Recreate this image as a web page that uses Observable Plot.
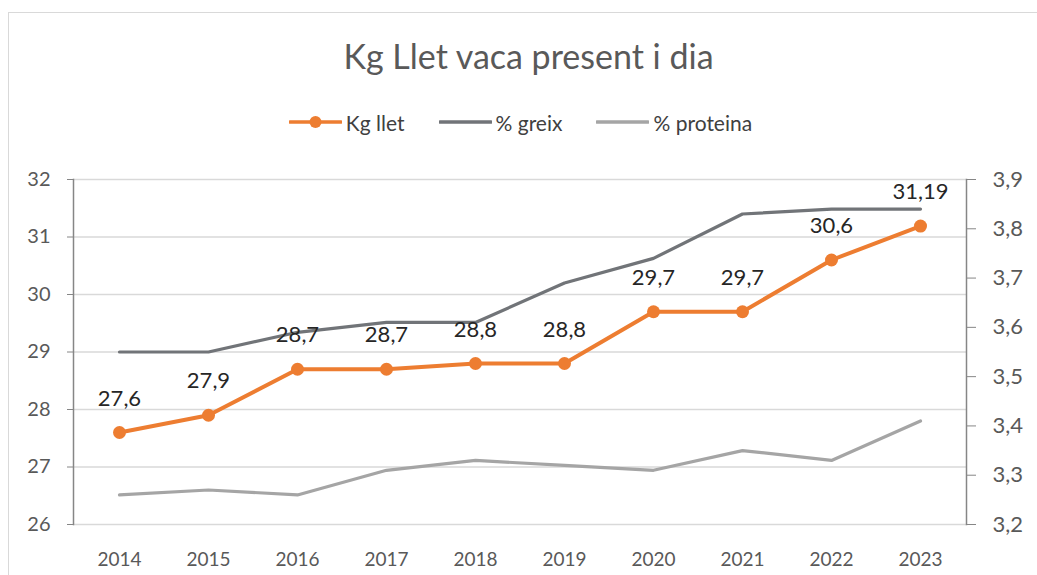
<!DOCTYPE html>
<html>
<head>
<meta charset="utf-8">
<script src="https://cdn.jsdelivr.net/npm/d3@7"></script>
<script src="https://cdn.jsdelivr.net/npm/@observablehq/plot@0.6"></script>
<style>
  html, body { margin: 0; padding: 0; background: #fff; overflow: hidden; }
  body { width: 1037px; height: 575px; position: relative; font-family: Lato, "Noto Sans", sans-serif; }
  #border { position: absolute; left: 8px; top: 12px; width: 1200px; height: 800px; border: 1.5px solid #d9d9d9; box-sizing: border-box; }
  #title { position: absolute; left: 0; width: 1057px; top: 36px; text-align: center; font-size: 34px; color: #595959; line-height: 40px; white-space: nowrap; }
  #legend { position: absolute; left: 0; width: 1041px; top: 109px; height: 26px; display: flex; justify-content: center; align-items: center; gap: 34px; font-size: 21px; color: #404040; }
  .item { display: flex; align-items: center; gap: 4px; }
  #chart { position: absolute; left: 0; top: 150px; }
</style>
</head>
<body>
<div id="border"></div>
<div id="title">Kg Llet vaca present i dia</div>
<div id="legend"></div>
<div id="chart"></div>
<script>
const years = [2014, 2015, 2016, 2017, 2018, 2019, 2020, 2021, 2022, 2023];
const kgLlet = [27.6, 27.9, 28.7, 28.7, 28.8, 28.8, 29.7, 29.7, 30.6, 31.19];
const greix = [3.55, 3.55, 3.59, 3.61, 3.61, 3.69, 3.74, 3.83, 3.84, 3.84];
const proteina = [3.26, 3.27, 3.26, 3.31, 3.33, 3.32, 3.31, 3.35, 3.33, 3.41];
const leftTicks = [26, 27, 28, 29, 30, 31, 32];
const rightTicks = [3.2, 3.3, 3.4, 3.5, 3.6, 3.7, 3.8, 3.9];
const seriesNames = ["Kg llet", "% greix", "% proteina"];
const seriesColors = ["#ED7D31", "#717478", "#A5A5A5"];

const L0 = 26, L1 = 32, R0 = 3.2, R1 = 3.9;
const toLeft = v => L0 + (v - R0) / (R1 - R0) * (L1 - L0);
const fromLeft = v => R0 + (v - L0) / (L1 - L0) * (R1 - R0);
const comma = v => String(v).replace(".", ",");

const kgData = years.map((y, i) => ({year: String(y), v: kgLlet[i]}));
const greixData = years.map((y, i) => ({year: String(y), v: toLeft(greix[i])}));
const protData = years.map((y, i) => ({year: String(y), v: toLeft(proteina[i])}));

// Legend
const legend = d3.select("#legend");
seriesNames.forEach((name, i) => {
  const item = legend.append("div").attr("class", "item");
  const svg = item.append("svg").attr("width", 53).attr("height", 16);
  svg.append("line").attr("x1", 1).attr("x2", 52).attr("y1", 8).attr("y2", 8)
    .attr("stroke", seriesColors[i]).attr("stroke-width", 3.5).attr("stroke-linecap", "round");
  if (i === 0) svg.append("circle").attr("cx", 26.5).attr("cy", 8).attr("r", 6).attr("fill", seriesColors[i]);
  item.append("span").text(name);
});

const plot = Plot.plot({
  width: 1037,
  height: 425,
  marginTop: 29,
  marginBottom: 51,
  marginLeft: 73,
  marginRight: 71,
  style: {fontFamily: "Lato, 'Noto Sans', sans-serif", background: "transparent", overflow: "visible"},
  x: {type: "point", domain: years.map(String), padding: 0.5},
  y: {domain: [L0, L1]},
  marks: [
    Plot.gridY({ticks: leftTicks, stroke: "#d9d9d9", strokeOpacity: 1, strokeWidth: 1.5}),
    Plot.frame({anchor: "left", stroke: "#868686", strokeWidth: 1.5}),
    Plot.frame({anchor: "right", stroke: "#868686", strokeWidth: 1.5}),
    Plot.axisY({anchor: "left", ticks: leftTicks, tickFormat: d => String(d), tickSize: 6, tickPadding: 17, fontSize: 20, color: "#595959", stroke: "#868686", label: null}),
    Plot.axisY({anchor: "right", ticks: rightTicks.map(toLeft), tickFormat: d => comma(Math.round(fromLeft(d) * 10) / 10), tickSize: 9, tickPadding: 17, fontSize: 22, color: "#595959", stroke: "#868686", label: null}),
    Plot.axisX({tickSize: 0, tickPadding: 28, fontSize: 19, color: "#595959", label: null}),
    Plot.line(protData, {x: "year", y: "v", stroke: seriesColors[2], strokeWidth: 3.2}),
    Plot.line(greixData, {x: "year", y: "v", stroke: seriesColors[1], strokeWidth: 3.2}),
    Plot.line(kgData, {x: "year", y: "v", stroke: seriesColors[0], strokeWidth: 4}),
    Plot.dot(kgData, {x: "year", y: "v", r: 6.5, fill: seriesColors[0], stroke: "none"}),
    Plot.text(kgData, {x: "year", y: "v", text: d => comma(d.v), dy: -34, fontSize: 22, fill: "#262626"})
  ]
});
document.getElementById("chart").appendChild(plot);
</script>
</body>
</html>
